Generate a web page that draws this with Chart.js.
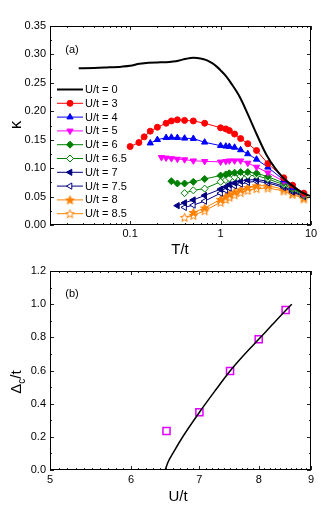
<!DOCTYPE html>
<html>
<head>
<meta charset="utf-8">
<script src="https://cdn.jsdelivr.net/npm/chart.js@4.4.1/dist/chart.umd.min.js"></script>
<style>
  html, body { margin: 0; padding: 0; background: #fff; }
  #wrap { position: relative; width: 335px; height: 516px; }
  .panel { position: absolute; left: 0; width: 335px; height: 258px; }
</style>
</head>
<body>
<div id="wrap">
  <div class="panel" style="top:0"><canvas id="chartA"></canvas></div>
  <div class="panel" style="top:258px"><canvas id="chartB"></canvas></div>
</div>
<script>
// ---- panel (a): kappa vs T/t ----
const seriesNames = ['U/t = 0', 'U/t = 3', 'U/t = 4', 'U/t = 5', 'U/t = 6', 'U/t = 6.5', 'U/t = 7', 'U/t = 7.5', 'U/t = 8', 'U/t = 8.5']

const tU0 = [0.027, 0.04, 0.055, 0.08, 0.1, 0.127, 0.16, 0.2, 0.25, 0.3, 0.35, 0.42, 0.5, 0.6, 0.7, 0.8, 0.9, 1.0, 1.16, 1.3, 1.62, 2.0, 2.5, 3.2, 4.0, 4.86, 6.0, 7.45, 8.8, 10]
const kU0 = [0.2757, 0.276, 0.277, 0.2785, 0.28, 0.2835, 0.2855, 0.286, 0.2862, 0.2875, 0.2895, 0.2925, 0.294, 0.293, 0.29, 0.285, 0.279, 0.272, 0.261, 0.25, 0.226, 0.195, 0.16, 0.124, 0.1, 0.084, 0.071, 0.06, 0.054, 0.0505]

const tU3 = [0.1, 0.125, 0.143, 0.167, 0.2, 0.25, 0.286, 0.333, 0.4, 0.5, 0.667, 1.0, 1.143, 1.25, 1.429, 1.667, 2.0, 2.5, 3.333, 5.0, 6.25, 8.333]
const kU3 = [0.138, 0.145, 0.155, 0.165, 0.172, 0.179, 0.183, 0.185, 0.184, 0.183, 0.179, 0.171, 0.169, 0.166, 0.16, 0.152, 0.143, 0.131, 0.108, 0.083, 0.07, 0.056]

const tU4 = [0.167, 0.2, 0.25, 0.286, 0.333, 0.4, 0.5, 0.667, 1.0, 1.143, 1.25, 1.429, 1.667, 2.0, 2.5, 3.333, 5.0, 6.25, 8.333]
const kU4 = [0.144, 0.15, 0.1535, 0.154, 0.1535, 0.1525, 0.152, 0.1455, 0.1395, 0.1385, 0.138, 0.1365, 0.132, 0.125, 0.1155, 0.1015, 0.079, 0.066, 0.055]

const tU5 = [0.222, 0.25, 0.286, 0.333, 0.4, 0.5, 0.667, 1.0, 1.143, 1.25, 1.429, 1.667, 2.0, 2.5, 3.333, 5.0, 6.25, 8.333]
const kU5 = [0.119, 0.118, 0.117, 0.116, 0.115, 0.113, 0.112, 0.111, 0.112, 0.113, 0.113, 0.113, 0.109, 0.102, 0.092, 0.077, 0.067, 0.054]

const tU6 = [0.286, 0.333, 0.4, 0.5, 0.667, 1.0, 1.143, 1.25, 1.429, 1.667, 2.0, 2.5, 3.333, 5.0, 6.25, 8.333]
const kU6 = [0.077, 0.073, 0.073, 0.076, 0.081, 0.087, 0.089, 0.091, 0.092, 0.093, 0.093, 0.091, 0.085, 0.074, 0.065, 0.053]

const tU65 = [0.4, 0.5, 0.667, 1.0, 1.143, 1.25, 1.429, 1.667, 2.0, 2.5, 3.333, 5.0, 6.25, 8.333]
const kU65 = [0.056, 0.061, 0.064, 0.076, 0.079, 0.082, 0.084, 0.086, 0.087, 0.087, 0.081, 0.071, 0.063, 0.052]

const tU7 = [0.333, 0.4, 0.5, 0.667, 1.0, 1.143, 1.25, 1.429, 1.667, 2.0, 2.5, 3.333, 5.0, 6.25, 8.333]
const kU7 = [0.034, 0.039, 0.044, 0.052, 0.063, 0.067, 0.071, 0.074, 0.077, 0.079, 0.08, 0.077, 0.068, 0.06, 0.051]

const tU75 = [0.4, 0.5, 0.667, 1.0, 1.143, 1.25, 1.429, 1.667, 2.0, 2.5, 3.333, 5.0, 6.25, 8.333]
const kU75 = [0.031, 0.035, 0.042, 0.056, 0.061, 0.065, 0.069, 0.072, 0.075, 0.077, 0.074, 0.066, 0.058, 0.05]

const tU8 = [0.5, 0.667, 1.0, 1.143, 1.25, 1.429, 1.667, 2.0, 2.5, 3.333, 5.0, 6.25, 8.333]
const kU8 = [0.022, 0.03, 0.045, 0.05, 0.054, 0.058, 0.062, 0.066, 0.069, 0.069, 0.063, 0.056, 0.048]

const tU85 = [0.4, 0.5, 0.667, 1.0, 1.143, 1.25, 1.429, 1.667, 2.0, 2.5, 3.333, 5.0, 6.25, 8.333]
const kU85 = [0.0135, 0.017, 0.025, 0.04, 0.045, 0.049, 0.053, 0.057, 0.061, 0.064, 0.065, 0.06, 0.054, 0.046]

const tTicks = [0.1, 1, 10]
const kTicks = [0, 0.05, 0.1, 0.15, 0.2, 0.25, 0.3, 0.35]

// ---- panel (b): gap vs U/t ----
const uSquares = [6.5, 7.0, 7.5, 8.0, 8.5]
const gapSquares = [0.235, 0.348, 0.597, 0.788, 0.965]
const uFit = [6.48, 6.52, 6.6, 6.75, 7.0, 7.25, 7.5, 7.75, 8.0, 8.25, 8.5, 8.62]
const gapFit = [0.0, 0.045, 0.105, 0.205, 0.348, 0.477, 0.597, 0.698, 0.788, 0.877, 0.962, 1.0]
const uTicks = [5, 6, 7, 8, 9]
const gapTicks = [0, 0.2, 0.4, 0.6, 0.8, 1.0, 1.2]

const FONT = '"Liberation Sans", Arial, sans-serif'

function pts(xs, ys) {
  return xs.map((x, i) => ({ x: x, y: ys[i] }))
}

// 5 point star marker drawn on a tiny canvas
function starMarker(color, filled) {
  let c = document.createElement('canvas')
  c.width = 11; c.height = 11
  let g = c.getContext('2d')
  g.beginPath()
  for (let i = 0; i < 10; i++) {
    let r = i % 2 ? 1.9 : 4.5
    let a = -Math.PI / 2 + i * Math.PI / 5
    let px = 5.5 + r * Math.cos(a), py = 5.9 + r * Math.sin(a)
    if (i == 0) g.moveTo(px, py); else g.lineTo(px, py)
  }
  g.closePath()
  g.fillStyle = filled ? color : '#fff'
  g.fill()
  g.strokeStyle = color
  g.lineWidth = 1
  g.stroke()
  return c
}

function series(i, xs, ys, color, style, rot, filled, radius) {
  return {
    label: seriesNames[i],
    data: pts(xs, ys),
    borderColor: color,
    borderWidth: 1,
    pointStyle: style,
    pointRotation: rot,
    pointRadius: radius,
    pointBorderColor: color,
    pointBackgroundColor: filled ? color : '#fff',
    pointBorderWidth: 1,
    tension: 0
  }
}

const red = '#ff0000', blue = '#0000ff', magenta = '#ff00ff', green = '#008000', navy = '#000080', orange = '#ff8000'

const datasetsA = [
  { label: seriesNames[0], data: pts(tU0, kU0), borderColor: '#000', borderWidth: 2, pointRadius: 0, cubicInterpolationMode: 'monotone' },
  series(1, tU3, kU3, red, 'circle', 0, true, 3),
  series(2, tU4, kU4, blue, 'triangle', 0, true, 3.6),
  series(3, tU5, kU5, magenta, 'triangle', 180, true, 3.6),
  series(4, tU6, kU6, green, 'rectRot', 0, true, 3.5),
  series(5, tU65, kU65, green, 'rectRot', 0, false, 3.5),
  series(6, tU7, kU7, navy, 'triangle', -90, true, 3.6),
  series(7, tU75, kU75, navy, 'triangle', -90, false, 3.6),
  series(8, tU8, kU8, orange, starMarker(orange, true), 0, true, 4),
  series(9, tU85, kU85, orange, starMarker(orange, false), 0, false, 4)
]

// frame + inward ticks on all four sides
function drawFrame(chart, xMaj, xMin, yMaj, yMin) {
  let ctx = chart.ctx, a = chart.chartArea
  let xs = chart.scales.x, ys = chart.scales.y
  ctx.save()
  ctx.strokeStyle = '#222'
  ctx.lineWidth = 1
  ctx.beginPath()
  let seg = (x1, y1, x2, y2) => { ctx.moveTo(x1, y1); ctx.lineTo(x2, y2) }
  let xt = (v, L) => { let p = Math.round(xs.getPixelForValue(v)) + 0.5; seg(p, a.bottom, p, a.bottom - L); seg(p, a.top, p, a.top + L) }
  let yt = (v, L) => { let p = Math.round(ys.getPixelForValue(v)) + 0.5; seg(a.left, p, a.left + L, p); seg(a.right, p, a.right - L, p) }
  xMaj.forEach(v => xt(v, 4)); xMin.forEach(v => xt(v, 2))
  yMaj.forEach(v => yt(v, 4)); yMin.forEach(v => yt(v, 2))
  ctx.stroke()
  ctx.strokeStyle = '#000'
  ctx.strokeRect(a.left + 0.5, a.top + 0.5, a.right - a.left - 1, a.bottom - a.top - 1)
  ctx.restore()
}

function text(ctx, s, x, y, size, rot) {
  ctx.save()
  ctx.translate(x, y)
  if (rot) ctx.rotate(rot)
  ctx.font = size + 'px ' + FONT
  ctx.fillStyle = '#000'
  ctx.textAlign = 'center'
  ctx.textBaseline = 'middle'
  ctx.fillText(s, 0, 0)
  ctx.restore()
}

// minor tick positions (layout only)
const tMinor = []
;[0.01, 0.1, 1].forEach(d => { for (let m = 2; m <= 9; m++) if (d * m > 0.013) tMinor.push(d * m) })
const kMinor = [0.025, 0.075, 0.125, 0.175, 0.225, 0.275, 0.325]

const decoA = {
  id: 'decoA',
  afterDraw(chart) {
    drawFrame(chart, tTicks, tMinor, kTicks, kMinor)
    let ctx = chart.ctx
    text(ctx, '(a)', 72, 50, 11)
    text(ctx, 'T/t', 180, 250, 15)
    text(ctx, 'κ', 16, 125, 17, -Math.PI / 2)
    // legend
    chart.data.datasets.forEach((ds, i) => {
      let y = 89.5 + i * 13.8
      ctx.save()
      ctx.strokeStyle = ds.borderColor
      ctx.lineWidth = ds.borderWidth
      ctx.beginPath(); ctx.moveTo(57, y); ctx.lineTo(83, y); ctx.stroke()
      if (ds.pointRadius > 0) {
        ctx.fillStyle = ds.pointBackgroundColor
        ctx.strokeStyle = ds.pointBorderColor
        ctx.lineWidth = 1
        Chart.helpers.drawPoint(ctx, { pointStyle: ds.pointStyle, rotation: ds.pointRotation, radius: ds.pointRadius, borderWidth: 1 }, 70, y)
      }
      ctx.restore()
      ctx.save()
      ctx.font = '11px ' + FONT
      ctx.fillStyle = '#000'
      ctx.textBaseline = 'middle'
      ctx.fillText(ds.label, 85, y + 0.5)
      ctx.restore()
    })
  }
}

const gridOff = { display: false, drawTicks: false }

new Chart(document.getElementById('chartA'), {
  type: 'line',
  data: { datasets: datasetsA },
  options: {
    responsive: true,
    maintainAspectRatio: false,
    animation: false,
    devicePixelRatio: 1,
    layout: { padding: { top: 26, right: 24, left: 0, bottom: 0 } },
    plugins: { legend: { display: false }, tooltip: { enabled: false } },
    scales: {
      x: {
        type: 'logarithmic',
        min: 0.013,
        max: 10,
        afterBuildTicks: s => { s.ticks = tTicks.map(v => ({ value: v })) },
        afterFit: s => { s.height = 33 },
        grid: gridOff,
        border: { display: false },
        ticks: { color: '#000', font: { family: FONT, size: 11 }, padding: 2, maxRotation: 0, autoSkip: false, callback: v => String(v) }
      },
      y: {
        min: 0,
        max: 0.35,
        afterBuildTicks: s => { s.ticks = kTicks.map(v => ({ value: v })) },
        afterFit: s => { s.width = 50 },
        grid: gridOff,
        border: { display: false },
        ticks: { color: '#000', font: { family: FONT, size: 11 }, padding: 4, callback: v => v.toFixed(2) }
      }
    }
  },
  plugins: [decoA]
})

// ---- panel (b) ----
const uMinor = []
for (let u = 5.1; u < 9; u += 0.1) { if (Math.abs(u - Math.round(u)) > 0.01) uMinor.push(u) }
const gapMinor = [0.1, 0.3, 0.5, 0.7, 0.9, 1.1]

const decoB = {
  id: 'decoB',
  afterDraw(chart) {
    drawFrame(chart, uTicks, uMinor, gapTicks, gapMinor)
    let ctx = chart.ctx
    text(ctx, '(b)', 72, 36, 11)
    text(ctx, 'U/t', 178, 239, 15)
    // rotated y title with subscript
    ctx.save()
    ctx.translate(17, 124)
    ctx.rotate(-Math.PI / 2)
    ctx.fillStyle = '#000'
    ctx.textBaseline = 'middle'
    ctx.font = '15px ' + FONT
    let w1 = ctx.measureText('Δ').width
    ctx.font = '10px ' + FONT
    let w2 = ctx.measureText('c').width
    ctx.font = '15px ' + FONT
    let w3 = ctx.measureText('/t').width
    let x0 = -(w1 + w2 + w3) / 2
    ctx.fillText('Δ', x0, 0)
    ctx.font = '10px ' + FONT
    ctx.fillText('c', x0 + w1, 5)
    ctx.font = '15px ' + FONT
    ctx.fillText('/t', x0 + w1 + w2, 0)
    ctx.restore()
  }
}

new Chart(document.getElementById('chartB'), {
  type: 'line',
  data: {
    datasets: [
      { data: pts(uFit, gapFit), borderColor: '#000', borderWidth: 1.5, pointRadius: 0, cubicInterpolationMode: 'monotone' },
      { data: pts(uSquares, gapSquares), showLine: false, pointStyle: 'rect', pointRadius: 5, pointBorderWidth: 1.5, pointBorderColor: '#e000ff', pointBackgroundColor: 'rgba(255,255,255,0)' }
    ]
  },
  options: {
    responsive: true,
    maintainAspectRatio: false,
    animation: false,
    devicePixelRatio: 1,
    layout: { padding: { top: 13, right: 24, left: 0, bottom: 0 } },
    plugins: { legend: { display: false }, tooltip: { enabled: false } },
    scales: {
      x: {
        type: 'logarithmic',
        min: 5,
        max: 9,
        afterBuildTicks: s => { s.ticks = uTicks.map(v => ({ value: v })) },
        afterFit: s => { s.height = 46 },
        grid: gridOff,
        border: { display: false },
        ticks: { color: '#000', font: { family: FONT, size: 11 }, padding: 3, maxRotation: 0, autoSkip: false, callback: v => String(v) }
      },
      y: {
        min: 0,
        max: 1.2,
        afterBuildTicks: s => { s.ticks = gapTicks.map(v => ({ value: v })) },
        afterFit: s => { s.width = 50 },
        grid: gridOff,
        border: { display: false },
        ticks: { color: '#000', font: { family: FONT, size: 11 }, padding: 4, callback: v => v.toFixed(1) }
      }
    }
  },
  plugins: [decoB]
})
</script>
</body>
</html>
